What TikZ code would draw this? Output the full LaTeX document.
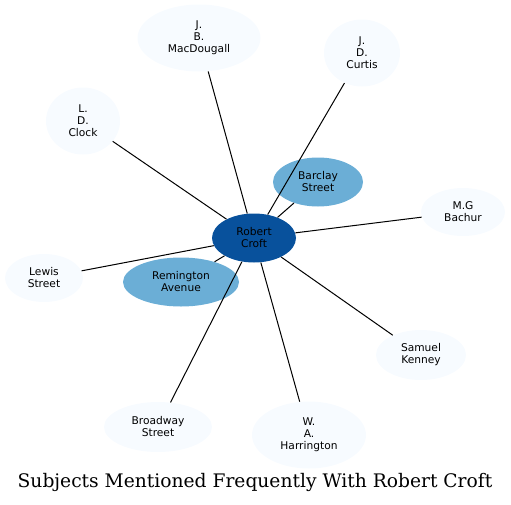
\documentclass[tikz,border=0pt]{standalone}
\usepackage{fontspec}
\usepackage{tikz}
\usetikzlibrary{shapes.geometric}

\newfontfamily\labelfont{DejaVu Sans}
\newfontfamily\titlefont{DejaVu Serif}

\definecolor{hubblue}{HTML}{08519C}
\definecolor{midblue}{HTML}{6BAED6}
\definecolor{paleblue}{HTML}{F7FBFF}

\newlength\pxu
\setlength\pxu{0.75pt}

\begin{document}
\begin{tikzpicture}[x = 0.75pt, y = -0.75pt,
  subject/.style = {ellipse, fill = paleblue, inner sep = 0pt, align = center,
    font = \labelfont\fontsize{8}{9}\selectfont},
  link/.style = {line width = 0.75pt, black}]

\useasboundingbox (0, 0) rectangle (511, 504);

% Robert Croft in the middle
  \node[subject, fill = hubblue, minimum width = 84\pxu, minimum height = 49\pxu] (croft) at (254, 238) {Robert\\Croft};

% Places
  \node[subject, fill = midblue, minimum width = 90\pxu, minimum height = 49\pxu] (barclay) at (318, 182) {Barclay\\Street};
  \node[subject, fill = midblue, minimum width = 116\pxu, minimum height = 49\pxu] (remington) at (181, 282) {Remington\\Avenue};
  \node[subject, minimum width = 78\pxu, minimum height = 48\pxu] (lewis) at (44, 278) {Lewis\\Street};
  \node[subject, minimum width = 108\pxu, minimum height = 50\pxu] (broadway) at (158, 427) {Broadway\\Street};

% People
  \node[subject, minimum width = 123\pxu, minimum height = 67\pxu] (macdougall) at (199, 38) {J.\\B.\\MacDougall};
  \node[subject, minimum width = 76\pxu, minimum height = 67\pxu] (curtis) at (362, 53) {J.\\D.\\Curtis};
  \node[subject, minimum width = 74\pxu, minimum height = 67\pxu] (clock) at (83, 121) {L.\\D.\\Clock};
  \node[subject, minimum width = 84\pxu, minimum height = 48\pxu] (bachur) at (463, 212) {M.G\\Bachur};
  \node[subject, minimum width = 90\pxu, minimum height = 50\pxu] (kenney) at (421, 355) {Samuel\\Kenney};
  \node[subject, minimum width = 114\pxu, minimum height = 67\pxu] (harrington) at (309, 435) {W.\\A.\\Harrington};

  \foreach \other in {barclay, remington, lewis, broadway, macdougall, curtis, clock, bachur, kenney, harrington} {
	\draw[link] (croft) -- (\other);
}

  \node[font = \titlefont\fontsize{14}{16}\selectfont] (title) at (255, 482) {Subjects Mentioned Frequently With Robert Croft};

\end{tikzpicture}
\end{document}
